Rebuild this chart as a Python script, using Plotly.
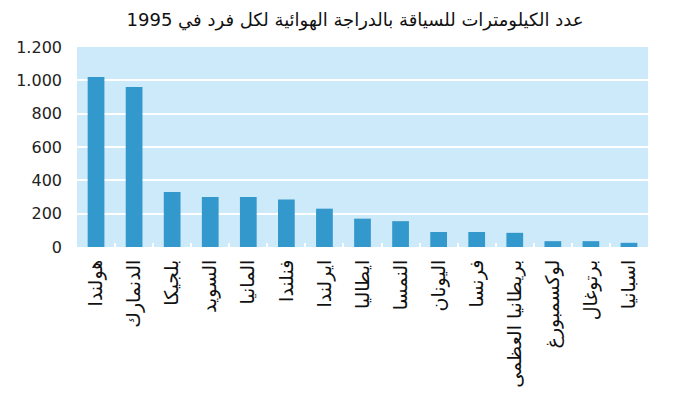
import plotly.graph_objects as go

countries = ["هولندا", "الدنمارك", "بلجيكا", "السويد", "المانيا", "فنلندا", "ايرلندا",
             "ايطاليا", "النمسا", "اليونان", "فرنسا", "بريطانيا العظمى", "لوكسمبورغ",
             "برتوغال", "اسبانيا"]
km_per_person = [1020, 960, 330, 300, 300, 285, 230, 170, 155, 90, 90, 85, 35, 35, 25]
y_ticks = [0, 200, 400, 600, 800, 1000, 1200]
title_text = "عدد الكيلومترات للسياقة بالدراجة الهوائية لكل فرد في 1995"

fig = go.Figure(go.Bar(
    x=countries, y=km_per_person,
    marker=dict(color="#3399cc", line=dict(width=0)),
))

fig.update_layout(
    width=689, height=404,
    margin=dict(l=77, r=41, t=47, b=157, autoexpand=False),
    paper_bgcolor="white", plot_bgcolor="#cdeafa",
    separators=",.",
    bargap=0.56,
    showlegend=False,
    font=dict(family="DejaVu Sans", color="#222222"),
    title=dict(text=title_text, x=355/689, xanchor="center", y=1 - 20/404, yanchor="middle",
               font=dict(size=18, family="DejaVu Sans", color="#111111")),
)
fig.update_xaxes(
    tickangle=-90, tickfont=dict(size=19, color="#111111"),
    ticks="inside", tickson="boundaries", ticklen=4, tickcolor="white", tickwidth=2,
    showgrid=False, showline=False, zeroline=False, automargin=False,
    ticklabelstandoff=8,
)
fig.update_yaxes(
    range=[0, 1200], tickvals=y_ticks, tickformat=",d",
    tickfont=dict(size=16, color="#222222"),
    showgrid=True, gridcolor="white", gridwidth=2, zeroline=False, showline=False,
    ticks="", ticklabelstandoff=14, automargin=False,
)

fig.write_html("out.html", config={"displayModeBar": False},
               post_script="document.body.style.margin='0';")
